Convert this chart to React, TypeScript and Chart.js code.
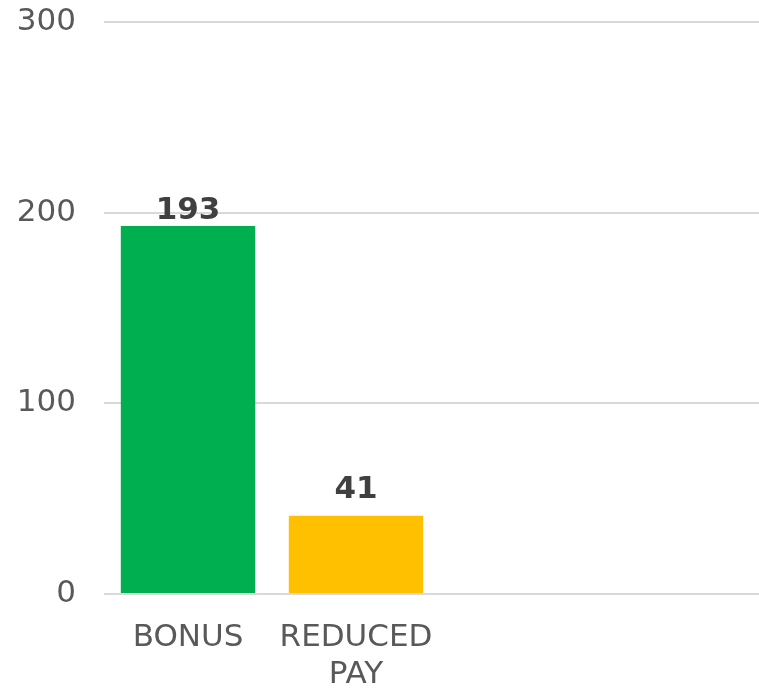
import React, { useEffect, useRef } from "react";
import { Chart, registerables } from "chart.js";

Chart.register(...registerables);

const categories: (string | string[])[] = ["BONUS", ["REDUCED", "PAY"], "", ""];
const values: (number | null)[] = [193, 41, null, null];
const barColors = ["#00B050", "#FFC000", "#00B050", "#00B050"];
const yTicks = [0, 100, 200, 300];

const FONT = "'DejaVu Sans', sans-serif";

const labelPlugin = {
  id: "barLabels",
  afterDatasetsDraw(chart: any, _args: any, opts: any) {
    const { ctx } = chart;
    const meta = chart.getDatasetMeta(0);
    ctx.save();
    ctx.font = `bold 31px ${FONT}`;
    ctx.fillStyle = "#404040";
    ctx.textAlign = "center";
    ctx.textBaseline = "alphabetic";
    meta.data.forEach((bar: any, i: number) => {
      const v = values[i];
      if (v == null) return;
      const off = (opts.offsets && opts.offsets[i]) || 10;
      ctx.fillText(String(v), bar.x, bar.y - off);
    });
    ctx.restore();
  },
};

export default function App() {
  const ref = useRef<HTMLCanvasElement>(null);
  useEffect(() => {
    document.body.style.margin = "0";
    if (!ref.current) return;
    const chart = new Chart(ref.current, {
      type: "bar",
      data: {
        labels: categories,
        datasets: [
          {
            data: values,
            backgroundColor: barColors,
            barPercentage: 0.8,
            categoryPercentage: 1,
          },
        ],
      },
      plugins: [labelPlugin],
      options: {
        responsive: false,
        animation: false,
        layout: { padding: 0 },
        plugins: {
          legend: { display: false },
          tooltip: { enabled: false },
          barLabels: { offsets: [7, 18] },
        } as any,
        scales: {
          x: {
            grid: { display: false },
            border: { display: false },
            ticks: {
              font: { family: FONT, size: 31, lineHeight: 1.2 },
              color: "#595959",
              padding: 17,
              maxRotation: 0,
              autoSkip: false,
            },
            afterFit: (s: any) => {
              s.height = 95;
            },
          },
          y: {
            min: 0,
            max: 300,
            afterBuildTicks: (s: any) => {
              s.ticks = yTicks.map((v) => ({ value: v }));
            },
            grid: { color: "#d9d9d9", lineWidth: 2, drawTicks: false },
            border: { display: false },
            ticks: {
              font: { family: FONT, size: 31 },
              color: "#595959",
              padding: 28,
            },
            afterFit: (s: any) => {
              s.width = 104;
              s.paddingTop = 22;
              s.paddingBottom = 0;
            },
          },
        },
      },
    });
    return () => chart.destroy();
  }, []);
  return (
    <div style={{ width: 759, height: 689, overflow: "hidden" }}>
      <canvas ref={ref} width={776} height={689} style={{ display: "block" }} />
    </div>
  );
}
